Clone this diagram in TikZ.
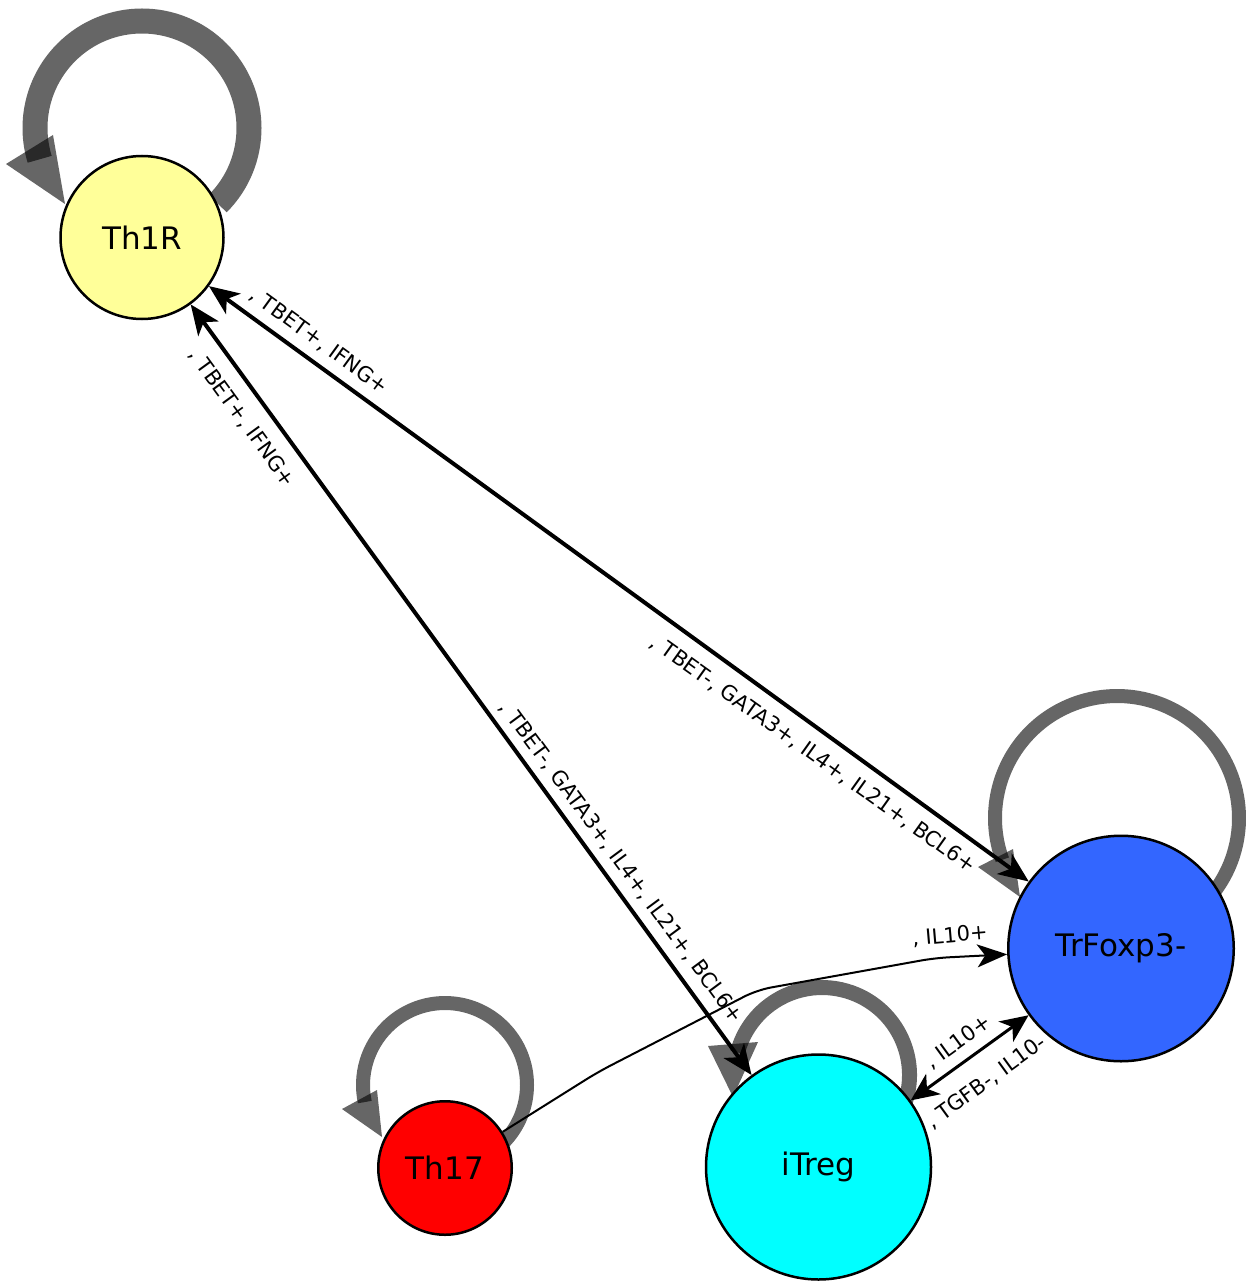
\documentclass[tikz,border=0pt]{standalone}
\usepackage{fontspec}
\setmainfont{DejaVu Sans}
\usetikzlibrary{arrows.meta,backgrounds}
\begin{document}
\begin{tikzpicture}[x=1pt,y=-1pt,
  state/.style={circle, draw=black, line width=2.5pt, inner sep=0pt, font=\fontsize{31}{31}\selectfont},
  lbl/.style={font=\fontsize{21}{21}\selectfont, inner sep=0pt},
  loopring/.style={draw=black, draw opacity=0.6},
  loophead/.style={fill=black, fill opacity=0.6},
  bigtip/.tip={Stealth[length=30pt,width=25pt,inset=8pt]},
  midtip/.tip={Stealth[length=28pt,width=25pt,inset=8pt]},
  smalltip/.tip={Stealth[length=30pt,width=23pt,inset=8pt]},
  thickedge/.style={draw=black, line width=4pt, bigtip-bigtip},
  midedge/.style={draw=black, line width=3pt, midtip-midtip},
  thinedge/.style={draw=black, line width=2pt, -smalltip, rounded corners=14pt}
]
\useasboundingbox (0,0) rectangle (1253,1281);

% nodes
\node[state, fill={rgb,255:red,255;green,255;blue,153}, minimum size=163pt] (Th1R) at (142,237.5) {Th1R};
\node[state, fill={rgb,255:red,51;green,102;blue,255}, minimum size=225.5pt] (TrF) at (1121,948.5) {TrFoxp3-};
\node[state, fill={rgb,255:red,255;green,0;blue,0}, minimum size=133.5pt] (Th17) at (445,1168) {Th17};
\node[state, fill={rgb,255:red,0;green,255;blue,255}, minimum size=225pt] (iTreg) at (818.5,1167) {iTreg};

\coordinate (b1) at (598,1072);
\coordinate (b2) at (757,990);
\coordinate (b3) at (935,958);

\begin{pgfonlayer}{background}
% self loops
\draw[loopring, line width=25pt] ([shift={(45:107)}]142,128) arc[start angle=45, end angle=-197, radius=107];
\fill[loophead] (6,164) -- (53,135) -- (65,204) -- cycle;

\draw[loopring, line width=14pt] ([shift={(38:122)}]1117,818) arc[start angle=38, end angle=-200, radius=122];
\fill[loophead] (978,867) -- (1013,849) -- (1020,897) -- cycle;

\draw[loopring, line width=14pt] ([shift={(45:82)}]445,1085) arc[start angle=45, end angle=-192, radius=82];
\fill[loophead] (342,1109) -- (377,1090) -- (382,1137) -- cycle;

\draw[loopring, line width=15pt] ([shift={(20:87.5)}]822,1075) arc[start angle=20, end angle=-165, radius=87.5];
\fill[loophead] (708,1046) -- (758,1042) -- (733,1097) -- cycle;

% edges
\draw[thickedge] (Th1R) -- (TrF);
\draw[thickedge] (Th1R) -- (iTreg);
\draw[midedge] (iTreg) -- (TrF);
\draw[thinedge] (Th17) -- (b1) -- (b2) -- (b3) -- (TrF);
\end{pgfonlayer}

% edge labels
\node[lbl, rotate=-36] (l1) at (319,341) {, TBET+, IFNG+};
\node[lbl, rotate=-54] (l2) at (242,418) {, TBET+, IFNG+};
\node[lbl, rotate=-35.5] (l3) at (813,754) {, TBET-, GATA3+, IL4+, IL21+, BCL6+};
\node[lbl, rotate=-53.5] (l4) at (621,862) {, TBET-, GATA3+, IL4+, IL21+, BCL6+};
\node[lbl, rotate=5] (l5) at (950,936) {, IL10+};
\node[lbl, rotate=36] (l6) at (958,1042) {, IL10+};
\node[lbl, rotate=36] (l7) at (986,1082) {, TGFB-, IL10-};
\end{tikzpicture}
\end{document}
